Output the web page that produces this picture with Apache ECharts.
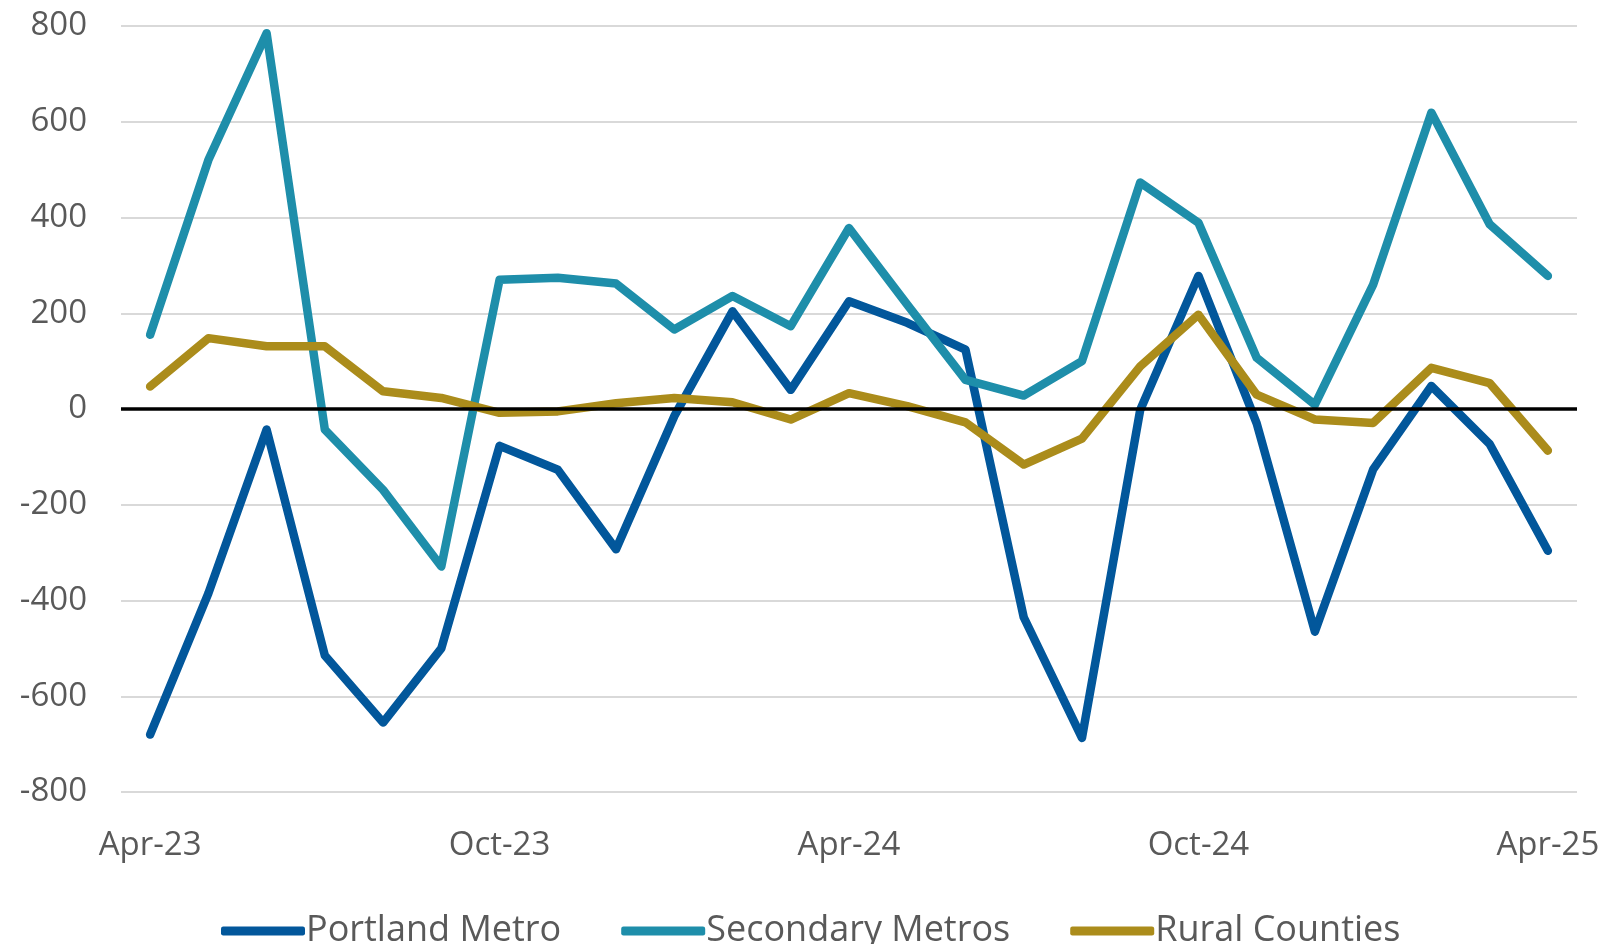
<!DOCTYPE html>
<html>
<head>
<meta charset="utf-8">
<title>Net migration by region</title>
<script src="https://cdn.jsdelivr.net/npm/echarts@6/dist/echarts.min.js"></script>
<style>
  html, body { margin: 0; padding: 0; background: #fff; }
  #chart { width: 1608px; height: 944px; }
</style>
</head>
<body>
<div id="chart"></div>
<script>
// months, Apr-23 .. Apr-25
const months = [
  'Apr-23', 'May-23', 'Jun-23', 'Jul-23', 'Aug-23', 'Sep-23', 'Oct-23', 'Nov-23', 'Dec-23',
  'Jan-24', 'Feb-24', 'Mar-24', 'Apr-24', 'May-24', 'Jun-24', 'Jul-24', 'Aug-24', 'Sep-24',
  'Oct-24', 'Nov-24', 'Dec-24', 'Jan-25', 'Feb-25', 'Mar-25', 'Apr-25'
]

const portlandMetro = [
  -680, -385, -43, -515, -655, -500, -77, -127, -293, -15, 204, 40, 225,
  180, 124, -435, -687, -2, 278, -30, -465, -126, 48, -73, -296
]

const secondaryMetros = [
  155, 520, 785, -43, -169, -329, 270, 274, 262, 166, 236, 173, 378,
  218, 61, 28, 100, 473, 389, 107, 9, 260, 619, 386, 278
]

const ruralCounties = [
  47, 148, 131, 131, 37, 23, -8, -5, 12, 23, 14, -22, 33,
  6, -28, -116, -62, 89, 197, 30, -22, -29, 86, 54, -87
]

const yTicks = { min: -800, max: 800, step: 200 }

const textColor = '#595959'
const fontFamily = '"Open Sans", "Noto Sans", sans-serif'

const chart = echarts.init(document.getElementById('chart'))

const lineSeries = (name, data, color) => ({
  name: name,
  type: 'line',
  data: data,
  symbol: 'none',
  z: 3,
  lineStyle: { color: color, width: 8.5, cap: 'round', join: 'round' },
  itemStyle: { color: color }
})

const option = {
  animation: false,
  textStyle: { fontFamily: fontFamily },
  grid: {
    left: 121,
    right: 31,
    top: 26,
    bottom: 152
  },
  legend: {
    bottom: -10,
    left: 216,
    icon: 'roundRect',
    itemWidth: 84,
    itemHeight: 9,
    itemGap: 60,
    data: ['Portland Metro', 'Secondary Metros', 'Rural Counties'],
    textStyle: { color: textColor, fontSize: 36, fontFamily: fontFamily, padding: [0, 0, 0, -4] }
  },
  xAxis: {
    type: 'category',
    data: months,
    boundaryGap: true,
    axisLine: { show: false, onZero: false },
    axisTick: { show: false },
    axisLabel: {
      interval: 5,
      color: textColor,
      fontSize: 33,
      margin: 37
    }
  },
  yAxis: {
    type: 'value',
    min: yTicks.min,
    max: yTicks.max,
    interval: yTicks.step,
    axisLine: { show: false },
    axisTick: { show: false },
    axisLabel: { color: textColor, fontSize: 33, margin: 34 },
    splitLine: { lineStyle: { color: '#d9d9d9', width: 2 } }
  },
  series: [
    {
      // zero line only
      name: 'zero',
      type: 'line',
      data: [],
      z: 2,
      silent: true,
      markLine: {
        silent: true,
        symbol: ['none', 'none'],
        label: { show: false },
        lineStyle: { color: '#000', width: 3.5, type: 'solid' },
        data: [{ yAxis: 0 }]
      }
    },
    lineSeries('Portland Metro', portlandMetro, '#02579b'),
    lineSeries('Secondary Metros', secondaryMetros, '#1e8eaa'),
    lineSeries('Rural Counties', ruralCounties, '#ab8c1b')
  ]
}

chart.setOption(option)
</script>
</body>
</html>
